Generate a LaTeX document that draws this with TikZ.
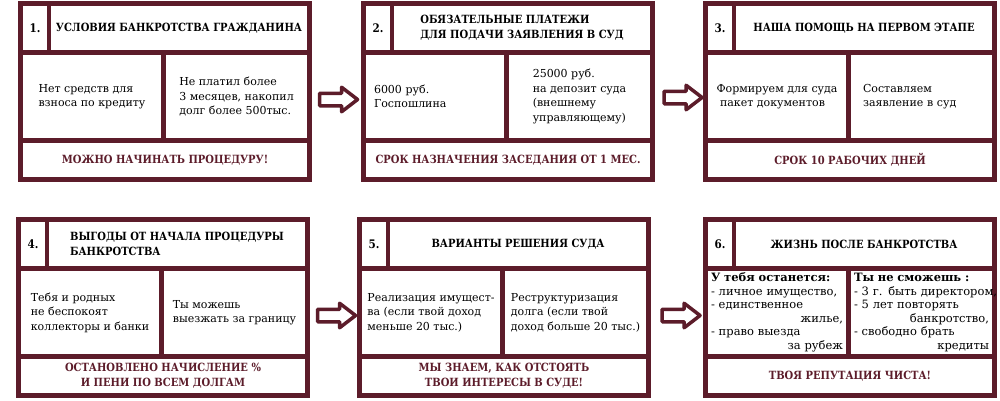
\documentclass[tikz,border=0pt]{standalone}
\usepackage{fontspec}
\setmainfont{DejaVu Serif}
\newfontfamily\condserif[FakeStretch=0.88]{DejaVu Serif}
\usetikzlibrary{shapes.arrows,calc}
\definecolor{wine}{RGB}{92,28,42}
\begin{document}
\begin{tikzpicture}[x=1pt,y=-1pt,
  frame/.style={fill=wine, draw=none, inner sep=0pt, outer sep=0pt, anchor=north west, minimum width=294pt, minimum height=181pt},
  cell/.style={fill=white, draw=none, inner sep=0pt, outer sep=0pt, anchor=north west, align=left},
  numcell/.style={cell, minimum width=24pt, minimum height=44pt, font=\condserif\bfseries\fontsize{11.8}{12}\selectfont},
  titlecell/.style={cell, minimum width=256pt, minimum height=44pt, font=\condserif\bfseries\fontsize{11.3}{15}\selectfont},
  midL/.style={cell, minimum width=138pt, minimum height=83pt, font=\fontsize{11}{14.5}\selectfont},
  midR/.style={cell, minimum width=141pt, minimum height=83pt, font=\fontsize{11}{14.5}\selectfont},
  botcell/.style={cell, minimum width=284pt, minimum height=34pt, align=center, text=wine, font=\condserif\bfseries\fontsize{11.3}{15}\selectfont},
  listcell/.style={font=\fontsize{11.5}{13.5}\selectfont, inner xsep=3pt},
  blockarrow/.style={single arrow, draw=wine, fill=white, line width=3.5pt, line join=round, minimum height=38pt, inner xsep=0pt, inner ysep=4.5pt, single arrow head extend=6pt, single arrow tip angle=75}
]
\fill[white] (0,0) rectangle (1000,400);
\useasboundingbox (0,0) rectangle (1000,400);

% card 1
\node[frame] (c1) at (18,1) {};
\node[numcell] (c1n) at (18+5,1+5) {1.};
\node[titlecell] (c1t) at (18+33,1+5) {УСЛОВИЯ БАНКРОТСТВА ГРАЖДАНИНА};
\node[midL] (c1l) at (18+5,1+54) {Нет средств для\\взноса по кредиту};
\node[midR] (c1r) at (18+148,1+54) {Не платил более\\3 месяцев, накопил\\долг более 500тыс.};
\node[botcell] (c1b) at (18+5,1+142) {МОЖНО НАЧИНАТЬ ПРОЦЕДУРУ!};

% card 2
\node[frame] (c2) at (361,1) {};
\node[numcell] (c2n) at (361+5,1+5) {2.};
\node[titlecell] (c2t) at (361+33,1+5) {ОБЯЗАТЕЛЬНЫЕ ПЛАТЕЖИ\\ДЛЯ ПОДАЧИ ЗАЯВЛЕНИЯ В СУД};
\node[midL, text width=122pt, inner xsep=8pt] (c2l) at (361+5,1+54) {6000 руб.\\Госпошлина};
\node[midR] (c2r) at (361+148,1+54) {25000 руб.\\на депозит суда\\(внешнему\\управляющему)};
\node[botcell] (c2b) at (361+5,1+142) {СРОК НАЗНАЧЕНИЯ ЗАСЕДАНИЯ ОТ 1 МЕС.};

% card 3
\node[frame] (c3) at (703,1) {};
\node[numcell] (c3n) at (703+5,1+5) {3.};
\node[titlecell] (c3t) at (703+33,1+5) {НАША ПОМОЩЬ НА ПЕРВОМ ЭТАПЕ};
\node[midL] (c3l) at (703+5,1+54) {Формируем для суда\\\ пакет документов};
\node[midR, text width=117pt, inner xsep=12pt] (c3r) at (703+148,1+54) {Составляем\\заявление в суд};
\node[botcell] (c3b) at (703+5,1+142) {СРОК 10 РАБОЧИХ ДНЕЙ};

% card 4
\node[frame] (c4) at (16,217) {};
\node[numcell] (c4n) at (16+5,217+5) {4.};
\node[titlecell] (c4t) at (16+33,217+5) {ВЫГОДЫ ОТ НАЧАЛА ПРОЦЕДУРЫ\\БАНКРОТСТВА};
\node[midL] (c4l) at (16+5,217+54) {Тебя и родных\\не беспокоят\\коллекторы и банки};
\node[midR] (c4r) at (16+148,217+54) {Ты можешь\\выезжать за границу};
\node[botcell] (c4b) at (16+5,217+142) {ОСТАНОВЛЕНО НАЧИСЛЕНИЕ \%\\И ПЕНИ ПО ВСЕМ ДОЛГАМ};

% card 5
\node[frame] (c5) at (357,217) {};
\node[numcell] (c5n) at (357+5,217+5) {5.};
\node[titlecell] (c5t) at (357+33,217+5) {ВАРИАНТЫ РЕШЕНИЯ СУДА};
\node[midL] (c5l) at (357+5,217+54) {Реализация имущест-\\ва (если твой доход\\меньше 20 тыс.)};
\node[midR] (c5r) at (357+148,217+54) {Реструктуризация\\долга (если твой\\доход больше 20 тыс.)};
\node[botcell] (c5b) at (357+5,217+142) {МЫ ЗНАЕМ, КАК ОТСТОЯТЬ\\ТВОИ ИНТЕРЕСЫ В СУДЕ!};

% card 6
\node[frame] (c6) at (703,217) {};
\node[numcell] (c6n) at (703+5,217+5) {6.};
\node[titlecell] (c6t) at (703+33,217+5) {ЖИЗНЬ ПОСЛЕ БАНКРОТСТВА};
\node[midL, listcell, text width=132pt] (c6l) at (703+5,217+54) {\textbf{У тебя останется:}\\- личное имущество,\\- единственное\\\hspace*{\fill}жилье,\\- право выезда\\\hspace*{\fill}за рубеж};
\node[midR, listcell, text width=135pt] (c6r) at (703+148,217+54) {\textbf{Ты не сможешь :}\\\mbox{- 3 г. быть директором,}\\- 5 лет повторять\\\hspace*{\fill}банкротство,\\- свободно брать\\\hspace*{\fill}кредиты\hspace*{6pt}};
\node[botcell] (c6b) at (703+5,217+142) {ТВОЯ РЕПУТАЦИЯ ЧИСТА!};

% arrows
\node[blockarrow] (a12) at ($(c1.east)!0.5!(c2.west)+(-2,8)$) {};
\node[blockarrow] (a23) at ($(c2.east)!0.5!(c3.west)+(0,6)$) {};
\node[blockarrow] (a45) at ($(c4.east)!0.5!(c5.west)+(-1,8)$) {};
\node[blockarrow] (a56) at ($(c5.east)!0.5!(c6.west)+(0,8)$) {};
\end{tikzpicture}
\end{document}
